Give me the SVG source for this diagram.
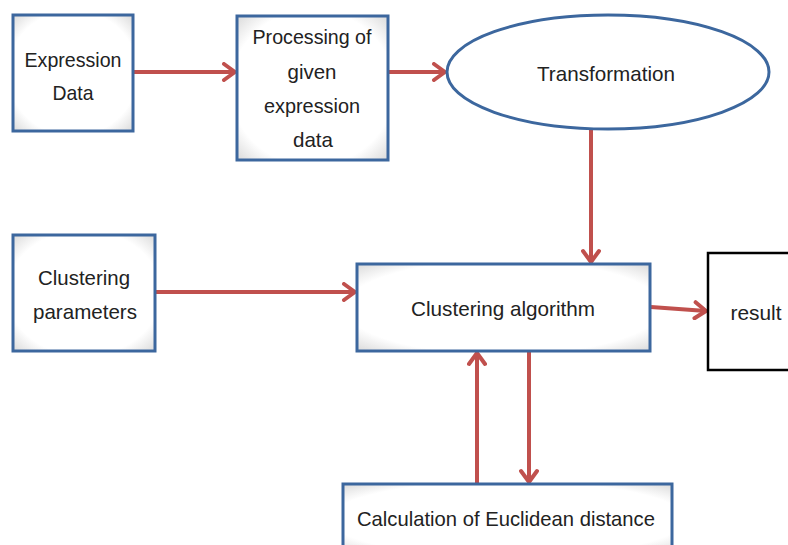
<svg xmlns="http://www.w3.org/2000/svg" width="788" height="545" viewBox="0 0 788 545">
<defs>
<radialGradient id="g" cx="50%" cy="50%" r="75%">
<stop offset="72%" stop-color="#ffffff"/>
<stop offset="100%" stop-color="#d0d0d0"/>
</radialGradient>
<marker id="ah" markerWidth="18" markerHeight="20" viewBox="0 0 18 20" refX="15" refY="10" orient="auto" markerUnits="userSpaceOnUse">
<path d="M4,2 L15,10 L4,18" fill="none" stroke="#c0504d" stroke-width="4" stroke-linecap="round" stroke-linejoin="round"/>
</marker>
<style>
.box{fill:url(#g);stroke:#3c679e;stroke-width:3}
.rbox{fill:#fff;stroke:#000;stroke-width:2.5}
.t{font-family:"Liberation Sans",Arial,sans-serif;font-size:21px;fill:#222;text-anchor:middle}
.c{stroke:#c0504d;stroke-width:4;fill:none;marker-end:url(#ah)}
</style>
</defs>
<rect width="788" height="545" fill="#fff"/>
<g id="connectors">
<line class="c" x1="134" y1="72" x2="235" y2="72"/>
<line class="c" x1="389" y1="72" x2="445" y2="72"/>
<line class="c" x1="591" y1="130" x2="591" y2="262"/>
<line class="c" x1="156" y1="292" x2="355" y2="292"/>
<line class="c" x1="651" y1="307" x2="706" y2="311"/>
<line class="c" x1="477" y1="484" x2="477" y2="353"/>
<line class="c" x1="529" y1="352" x2="529" y2="482"/>
</g>
<g id="expression-data">
<rect class="box" x="13" y="15" width="120" height="116"/>
<text class="t" x="73" y="67" textLength="97" lengthAdjust="spacingAndGlyphs">Expression</text>
<text class="t" x="73" y="100" textLength="41" lengthAdjust="spacingAndGlyphs">Data</text>
</g>
<g id="processing">
<rect class="box" x="237" y="16" width="151" height="144"/>
<text class="t" x="312" y="44" textLength="119" lengthAdjust="spacingAndGlyphs">Processing of</text>
<text class="t" x="312" y="79" textLength="49" lengthAdjust="spacingAndGlyphs">given</text>
<text class="t" x="312" y="113" textLength="96" lengthAdjust="spacingAndGlyphs">expression</text>
<text class="t" x="313" y="147" textLength="40" lengthAdjust="spacingAndGlyphs">data</text>
</g>
<g id="transformation">
<ellipse class="box" cx="608" cy="72" rx="161" ry="57"/>
<text class="t" x="606" y="81" textLength="138" lengthAdjust="spacingAndGlyphs">Transformation</text>
</g>
<g id="clustering-parameters">
<rect class="box" x="13" y="235" width="142" height="116"/>
<text class="t" x="84" y="285" textLength="92" lengthAdjust="spacingAndGlyphs">Clustering</text>
<text class="t" x="85" y="319" textLength="104" lengthAdjust="spacingAndGlyphs">parameters</text>
</g>
<g id="clustering-algorithm">
<rect class="box" x="357" y="264" width="293" height="87"/>
<text class="t" x="503" y="316" textLength="184" lengthAdjust="spacingAndGlyphs">Clustering algorithm</text>
</g>
<g id="result">
<rect class="rbox" x="708" y="253" width="90" height="117"/>
<text class="t" x="756" y="320" textLength="51" lengthAdjust="spacingAndGlyphs">result</text>
</g>
<g id="euclidean">
<rect class="box" x="343" y="484" width="329" height="70"/>
<text class="t" x="506" y="526" textLength="298" lengthAdjust="spacingAndGlyphs">Calculation of Euclidean distance</text>
</g>
</svg>
